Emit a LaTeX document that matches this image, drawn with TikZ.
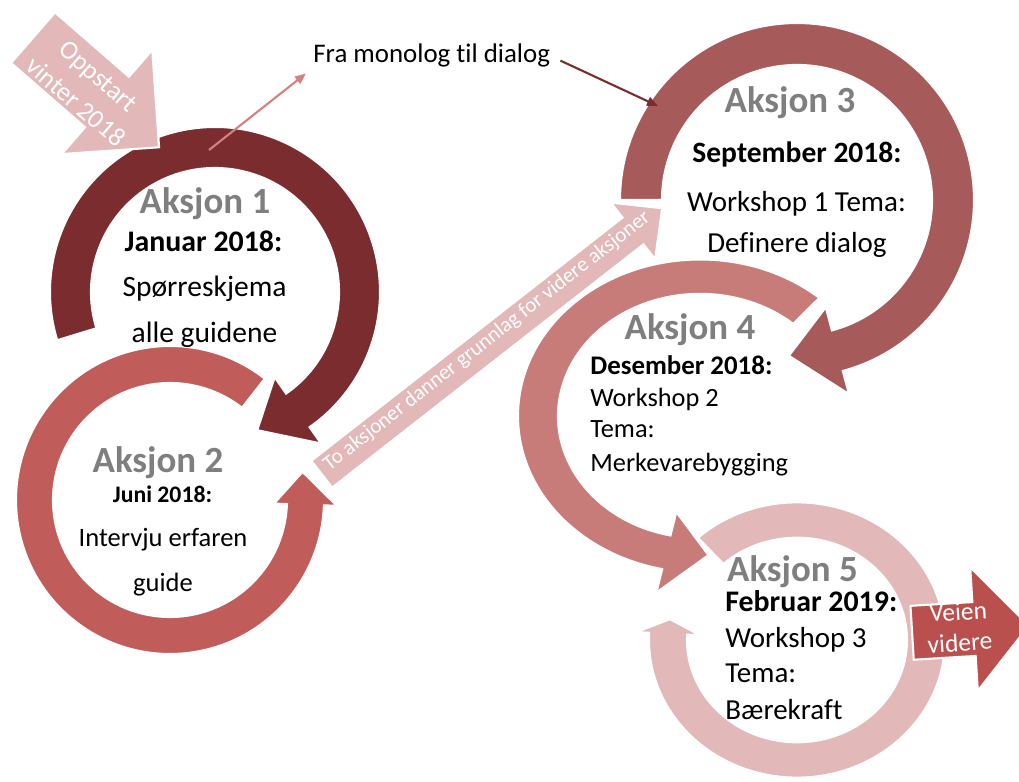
\documentclass[tikz,border=0pt]{standalone}
\usepackage{fontspec}
\setmainfont{Carlito}[Ligatures=NoCommon]
\usepackage{xcolor}
\usepackage{tikz}
\usetikzlibrary{arrows.meta,positioning}
\definecolor{cOne}{HTML}{7B2C2E}
\definecolor{cTwo}{HTML}{C05C5A}
\definecolor{cThree}{HTML}{A65A59}
\definecolor{cFour}{HTML}{C87C7A}
\definecolor{cFive}{HTML}{E2B8B8}
\definecolor{cNext}{HTML}{BA504E}
\definecolor{cLink}{HTML}{D4827F}
\definecolor{cTitle}{HTML}{7F7F7F}
\tikzset{
  >={Triangle[length=2.2mm,width=1.8mm]},
  ring/.style   ={draw=white,line width=1.2pt},
  acttitle/.style={anchor=base,inner sep=0pt,text=cTitle,font=\fontsize{21}{25}\selectfont\bfseries},
  actdate/.style ={anchor=base,inner sep=0pt,font=\fontsize{#1}{#1}\selectfont\bfseries},
  acttext/.style ={anchor=base,inner sep=0pt,font=\fontsize{#1}{#1}\selectfont},
  arrowtext/.style={text=white,align=center,inner sep=0pt},
  link/.style   ={->,line width=1.2pt},
}
% ring arrow: style, inner r, outer r, start, base of head, tip, overhang of head
\newcommand{\ringarrow}[7]{%
  \fill[ring,#1] (#4:#3) arc[start angle=#4,end angle=#5,radius=#3]
    -- (#5:{#3+#7}) -- (#6:{(#2+#3)/2}) -- (#5:{#2-#7}) -- (#5:#2)
    arc[start angle=#5,end angle=#4,radius=#2] -- cycle;}
% block arrow: style, shaft length, half shaft, half head, head length
\newcommand{\blockarrow}[5]{%
  \fill[ring,#1] (-#2,-#3) -- (0,-#3) -- (0,-#4) -- (#5,0) -- (0,#4) -- (0,#3) -- (-#2,#3) -- cycle;}

\begin{document}
\begin{tikzpicture}[x=0.02cm,y=0.02cm]
  \useasboundingbox (0,0) rectangle (1019,782);
  % the five actions
  \ringarrow{fill=cFive,shift={(797,142)},yscale=0.93}{110}{148}{132}{-183}{-190}{13}
  \ringarrow{fill=cFour,shift={(700,366)},yscale=0.86}{142}{182}{49}{258}{273}{28}
  \ringarrow{fill=cThree,shift={(797,582)}}{135}{177}{180}{-75}{-93}{24}
  \ringarrow{fill=cTwo,shift={(170,282)}}{117}{154}{52}{358}{372}{13}
  \ringarrow{fill=cOne,shift={(215,490)}}{124}{165}{197}{-55}{-73}{20}
  % straight arrows
  \blockarrow{fill=cFive,shift={(633,551)},rotate=38}{395}{17}{36}{37}
  \blockarrow{fill=cFive,shift={(107,680)},rotate=-41}{98}{33.5}{69}{69}
  \blockarrow{fill=cNext,shift={(974,153)},rotate=3.5}{62}{27}{62}{55}
  \node[arrowtext,rotate=-41,font=\fontsize{15}{19.5}\selectfont] (start) at (87,693) {Oppstart\\vinter 2018};
  \node[arrowtext,rotate=38,font=\fontsize{12}{14}\selectfont] (base) at (487,441) {To aksjoner danner grunnlag for videre aksjoner};
  \node[arrowtext,rotate=3.5,font=\fontsize{14.5}{17.6}\selectfont] (next) at (959,155) {Veien\\videre};

  % action 1
  \node[acttitle] (a1) at (205,568) {Aksjon 1};
  \node[actdate=17] (d1) at (203.5,530) {Januar 2018:};
  \node[acttext=16.8] (t1a) at (204.5,485) {Spørreskjema};
  \node[acttext=16.8] (t1b) at (204.5,439) {alle guidene};
  % action 2
  \node[acttitle] (a2) at (158,309) {Aksjon 2};
  \node[actdate=13.5] (d2) at (162.5,279) {Juni 2018:};
  \node[acttext=15.1] (t2a) at (163,235) {Intervju erfaren};
  \node[acttext=15.1] (t2b) at (163,190) {guide};
  % action 3
  \node[acttitle] (a3) at (790,669) {Aksjon 3};
  \node[actdate=16.8] (d3) at (797,619) {September 2018:};
  \node[acttext=16.5] (t3a) at (796.5,570) {Workshop 1 Tema:};
  \node[acttext=16.5] (t3b) at (797,529) {Definere dialog};
  % action 4
  \node[acttitle] (a4) at (690,442) {Aksjon 4};
  \node[actdate=15.3,anchor=base west] (d4) at (590,407) {Desember 2018:};
  \node[acttext=15,anchor=base west] (t4a) at (590,375) {Workshop 2};
  \node[acttext=15,anchor=base west] (t4b) at (590,344) {Tema:};
  \node[acttext=15,anchor=base west] (t4c) at (590,310) {Merkevarebygging};
  % action 5
  \node[acttitle] (a5) at (792.5,200) {Aksjon 5};
  \node[actdate=17,anchor=base west] (d5) at (725,170) {Februar 2019:};
  \node[acttext=16.5,anchor=base west] (t5a) at (725,134) {Workshop 3};
  \node[acttext=16.5,anchor=base west] (t5b) at (725,99) {Tema:};
  \node[acttext=16.5,anchor=base west] (t5c) at (725,62) {Bærekraft};

  % from monologue to dialogue
  \node[acttext=15.3,anchor=base west] (fra) at (313,719) {Fra monolog til dialog};
  \coordinate (m1) at (209,632);
  \coordinate (m3) at (658,676);
  \draw[link,cLink,shorten >=0.18cm] (m1) -- (fra.south west);
  \draw[link,cOne,shorten <=0.22cm] (fra.east) -- (m3);
\end{tikzpicture}
\end{document}
